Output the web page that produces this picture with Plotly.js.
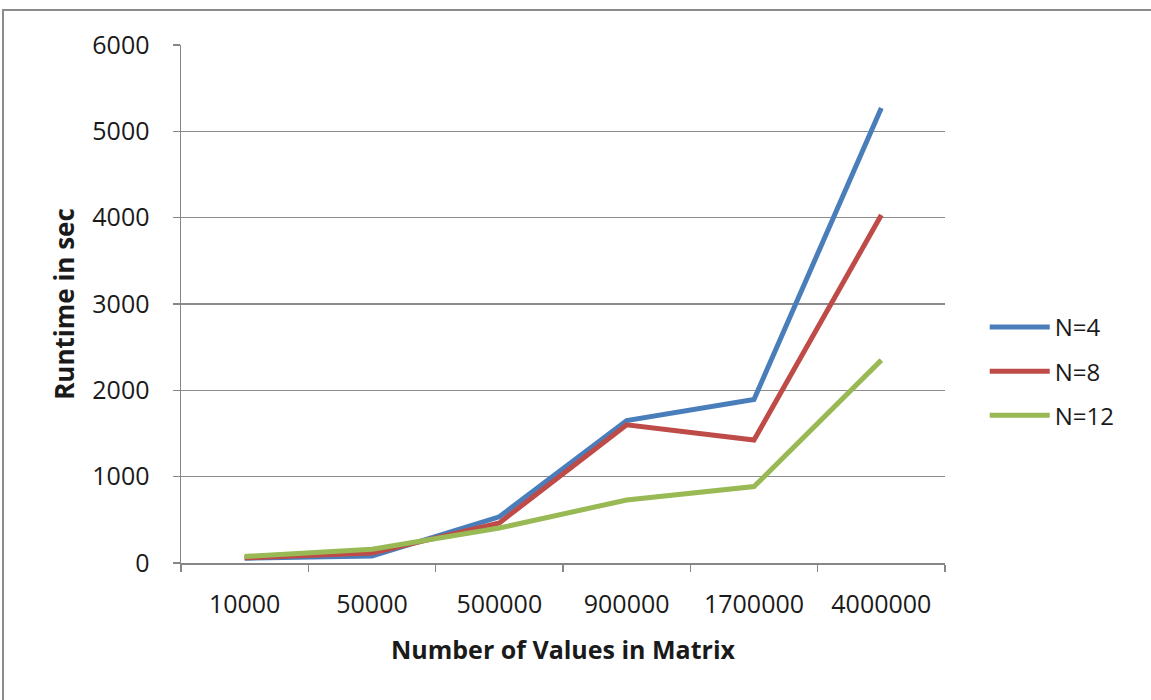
<!DOCTYPE html>
<html>
<head>
<meta charset="utf-8">
<script src="https://cdn.plot.ly/plotly-3.0.1.min.js"></script>
<style>
  html, body { margin: 0; padding: 0; background: #fff; overflow: hidden; }
  #wrap { position: relative; width: 1151px; height: 700px; overflow: hidden; }
  #frame { position: absolute; left: 2px; top: 9px; width: 1170px; height: 720px;
           border: 2px solid #8c8c8c; box-sizing: border-box; pointer-events: none; }
  #chart { position: absolute; left: 0; top: 0; width: 1151px; height: 700px; }
</style>
</head>
<body>
<div id="wrap">
  <div id="chart"></div>
  <div id="frame"></div>
</div>
<script>
// Matrix sizes (category axis)
const matrixSizes = ['10000', '50000', '500000', '900000', '1700000', '4000000'];

// Runtime in seconds per worker count
const runtimeN4  = [55, 80, 535, 1650, 1895, 5270];
const runtimeN8  = [60, 115, 465, 1600, 1425, 4030];
const runtimeN12 = [75, 160, 405, 730, 885, 2350];

const seriesNames  = ['N=4', 'N=8', 'N=12'];
const seriesColors = ['#4a7ebb', '#be4b48', '#98b954'];
const seriesValues = [runtimeN4, runtimeN8, runtimeN12];

const fontFamily = '"Open Sans", "Noto Sans", sans-serif';

const traces = seriesValues.map((vals, i) => ({
  type: 'scatter',
  mode: 'lines',
  name: seriesNames[i],
  legendgroup: 'g' + i,
  x: matrixSizes,
  y: vals,
  line: { color: seriesColors[i], width: 5 },
  hoverinfo: 'x+y+name'
}));

const layout = {
  width: 1151,
  height: 700,
  paper_bgcolor: '#ffffff',
  plot_bgcolor: '#ffffff',
  margin: { l: 181, r: 206, t: 45, b: 137, pad: 0 },
  font: { family: fontFamily, size: 25, color: '#1a1a1a' },
  showlegend: true,
  legend: {
    x: 1.052, y: 0.37, xanchor: 'left', yanchor: 'middle',
    font: { family: fontFamily, size: 24, color: '#1a1a1a' },
    tracegroupgap: 10,
    itemwidth: 60,
    bgcolor: 'rgba(0,0,0,0)'
  },
  xaxis: {
    type: 'category',
    range: [-0.5, 5.5],
    tickson: 'boundaries',
    ticks: 'outside',
    ticklen: 7,
    tickcolor: '#868686',
    tickwidth: 1.5,
    ticklabelstandoff: 18,
    showline: true,
    linecolor: '#868686',
    linewidth: 1.5,
    showgrid: false,
    zeroline: false,
    tickfont: { family: fontFamily, size: 25, color: '#1a1a1a' },
    title: { text: '<b>Number of Values in Matrix</b>', font: { family: fontFamily, size: 25, color: '#1a1a1a' }, standoff: 23 },
    automargin: false
  },
  yaxis: {
    range: [0, 6000],
    dtick: 1000,
    ticks: 'outside',
    ticklen: 7,
    tickcolor: '#868686',
    tickwidth: 1.5,
    ticklabelstandoff: 18,
    showline: true,
    linecolor: '#868686',
    linewidth: 1.5,
    showgrid: true,
    gridcolor: '#8c8c8c',
    gridwidth: 1.5,
    zeroline: false,
    tickfont: { family: fontFamily, size: 25, color: '#1a1a1a' },
    title: { text: '<b>Runtime in sec</b>', font: { family: fontFamily, size: 26, color: '#1a1a1a' }, standoff: 10 },
    automargin: false
  }
};

Plotly.newPlot('chart', traces, layout, { displayModeBar: false, staticPlot: true });
</script>
</body>
</html>
